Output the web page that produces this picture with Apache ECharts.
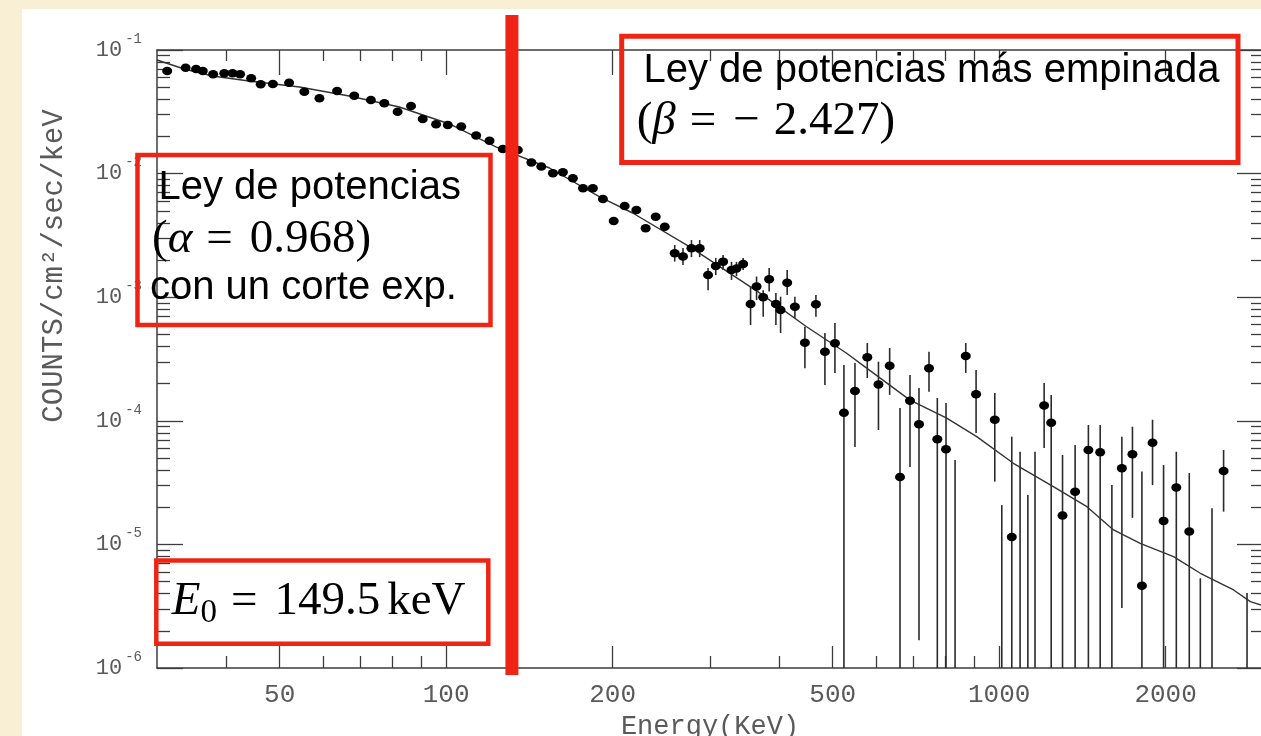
<!DOCTYPE html>
<html>
<head>
<meta charset="utf-8">
<script src="https://cdn.jsdelivr.net/npm/echarts@6.0.0/dist/echarts.min.js"></script>
<style>
  html, body { margin: 0; padding: 0; }
  #chart {
    width: 1261px; height: 736px;
    background: linear-gradient(#ffffff, #ffffff) 22px 9px / 1239px 727px no-repeat, #F9EFD5;
  }
</style>
</head>
<body>
<div id="chart"></div>
<script>
// Measured spectrum: energy (keV) and flux (counts/cm^2/sec/keV)
const pointE = [31.3, 33.8, 35.3, 36.3, 37.9, 39.7, 41.1, 42.4, 44.4, 46.2, 48.6, 52.0, 55.4, 59.0, 63.5, 68.2, 73.1, 77.3, 81.7, 86.4,
  90.7, 95.9, 100.7, 106.5, 113.3, 119.8, 126.6, 134.8, 142.6, 148.6, 156.0, 162.6, 169.5, 176.8, 184.2, 192.1, 200.9, 210.3, 220.8, 229.5,
  239.3, 248.5, 259.0, 268.1, 277.7, 287.4, 297.6, 307.3, 316.8, 328.1, 335.0, 344.4, 355.2, 364.2, 374.4, 383.8, 394.7, 402.5, 413.7, 427.2,
  466.3, 445.4, 484.1, 504.7, 524.0, 548.6, 577.5, 605.0, 633.9, 661.8, 689.9, 716.2, 746.7, 773.0, 801.5, 870.2, 908.4, 982.0, 1054, 1206,
  1242, 1302, 1372, 1450, 1523, 1667, 1742, 1812, 1894, 1983, 2091, 2207, 2546];
const pointC = [0.0676, 0.0719, 0.0702, 0.0676, 0.0636, 0.0648, 0.0648, 0.0636, 0.0590, 0.0528, 0.0531, 0.0544, 0.0460, 0.0407, 0.0466, 0.0427, 0.0394, 0.0371, 0.0317, 0.0352,
  0.0277, 0.0251, 0.0247, 0.0240, 0.0203, 0.0184, 0.0158, 0.0155, 0.0123, 0.0114, 0.01006, 0.01026, 0.00916, 0.00760, 0.00760, 0.00623, 0.00413, 0.00547, 0.00508, 0.00361,
  0.00448, 0.00372, 0.00227, 0.00213, 0.00249, 0.00249, 0.00151, 0.00179, 0.00194, 0.00166, 0.00171, 0.00186, 8.81e-4, 1.22e-3, 9.98e-4, 1.40e-3, 8.81e-4, 7.88e-4, 1.31e-3, 8.38e-4,
  8.76e-4, 4.28e-4, 3.62e-4, 4.24e-4, 1.16e-4, 1.74e-4, 3.27e-4, 1.97e-4, 2.79e-4, 3.51e-5, 1.45e-4, 9.39e-5, 2.66e-4, 7.08e-5, 5.88e-5, 3.34e-4, 1.64e-4, 1.02e-4, 1.15e-5, 1.33e-4,
  9.65e-5, 1.71e-5, 2.67e-5, 5.80e-5, 5.56e-5, 4.13e-5, 5.36e-5, 4.63e-6, 6.65e-5, 1.55e-5, 2.88e-5, 1.27e-5, 3.93e-5];
// Error bar limits (null where the bar is hidden under the dot); 1e-6 = runs off the bottom
const errLo = [null, null, null, null, null, null, null, null, null, null, null, null, null, null, null, null, null, null, null, null,
  null, null, null, null, null, null, null, null, null, null, null, null, null, null, null, null, null, null, null, null,
  null, null, 1.94e-3, 1.82e-3, 2.11e-3, 2.11e-3, 1.14e-3, 1.51e-3, 1.66e-3, 1.38e-3, 1.48e-3, 1.66e-3, 5.96e-4, 9.49e-4, 6.95e-4, 1.11e-3, 5.96e-4, 5.13e-4, 1.04e-3, 6.79e-4,
  6.95e-4, 2.66e-4, 1.95e-4, 2.44e-4, 1e-6, 6.14e-5, 2.22e-4, 8.43e-5, 1.62e-4, 1e-6, 4.23e-5, 1.68e-6, 1.72e-4, 1e-6, 1e-6, 2.44e-4, 7.97e-5, 3.22e-5, 1e-6, 6.03e-5,
  1e-6, 1e-6, 1e-6, 1e-6, 1e-6, 3.06e-6, 1.64e-5, 1e-6, 3.02e-5, 1e-6, 1e-6, 1e-6, 1.84e-5];
const errHi = [null, null, null, null, null, null, null, null, null, null, null, null, null, null, null, null, null, null, null, null,
  null, null, null, null, null, null, null, null, null, null, null, null, null, null, null, null, null, null, null, null,
  null, null, 2.64e-3, 2.50e-3, 2.90e-3, 2.90e-3, 1.72e-3, 2.08e-3, 2.19e-3, 1.93e-3, 1.93e-3, 2.08e-3, 1.22e-3, 1.47e-3, 1.14e-3, 1.72e-3, 1.08e-3, 1.01e-3, 1.66e-3, 1.01e-3,
  1.04e-3, 5.77e-4, 5.13e-4, 6.18e-4, 2.83e-4, 2.94e-4, 4.26e-4, 3.01e-4, 3.88e-4, 1.27e-4, 2.35e-4, 1.84e-4, 3.62e-4, 1.53e-4, 1.39e-4, 4.26e-4, 2.58e-4, 1.68e-4, 7.44e-5, 2.02e-4,
  1.62e-4, 5.29e-5, 6.37e-5, 9.25e-5, 9.25e-5, 7.44e-5, 8.96e-5, 3.88e-5, 1.02e-4, 4.39e-5, 5.62e-5, 3.78e-5, 5.80e-5];
// Bins whose value lies below the axis: only the upper end of the bar shows
const openE = [832.3, 1011, 1091, 1127, 1161, 1599, 2311, 2426, 2807];
const openTop = [4.82e-5, 2.08e-5, 5.62e-5, 2.51e-5, 5.62e-5, 3.02e-5, 5.32e-6, 1.96e-5, 4.04e-6];
// Fitted model curve
const fitE = [30, 33.6, 37.8, 44.0, 54.3, 66.8, 82.3, 101.4, 123.3, 153.8, 189.5, 217.4, 275.8, 369.3, 448.5, 529.9, 576.0, 689.9, 803.9, 910.9,
  1061, 1253, 1441, 1610, 1799, 2067, 2311, 2654, 2846, 2980];
const fitC = [0.0830, 0.0702, 0.0616, 0.0561, 0.0502, 0.0424, 0.0346, 0.0252, 0.0164, 0.0111, 0.00647, 0.00480, 0.00255, 0.00108, 5.77e-4, 3.52e-4, 2.67e-4, 1.47e-4, 1.05e-4, 7.44e-5,
  4.53e-5, 2.93e-5, 2.02e-5, 1.31e-5, 1.02e-5, 7.95e-6, 5.84e-6, 4.28e-6, 3.44e-6, 3.23e-6];
// Break energy marked with the red vertical bar
const breakE = 131.5;

// Axis ticks
const xMajor = [50, 100, 200, 500, 1000, 2000];
const xMinor = [40, 60, 70, 80, 90, 300, 400, 600, 700, 800, 900];
const yMajor = [1e-6, 1e-5, 1e-4, 1e-3, 1e-2, 1e-1];
const yMinor = [];
for (let d = -6; d < -1; d++) for (let m = 2; m <= 9; m++) yMinor.push(m * Math.pow(10, d));

const MONO = '"Liberation Mono", "DejaVu Sans Mono", monospace';
const SANS = '"Liberation Sans", Arial, sans-serif';
const SERIF = '"Liberation Serif", "DejaVu Serif", serif';
const AXIS_COLOR = '#3c3c3c';
const LABEL_COLOR = '#5a5a5a';
const RED = '#EE2414';

function xAxisDef(position, ticks, len, major) {
  return {
    type: 'log', logBase: 10, min: 30, max: 3000, position: position,
    axisLine: { show: major, lineStyle: { color: AXIS_COLOR, width: 1.5 } },
    axisTick: { show: true, inside: true, length: len, customValues: ticks, lineStyle: { color: AXIS_COLOR, width: 1.3 } },
    axisLabel: { show: false },
    splitLine: { show: false }
  };
}
function yAxisDef(position, ticks, len, major) {
  return {
    type: 'log', logBase: 10, min: 1e-6, max: 1e-1, position: position,
    axisLine: { show: major, lineStyle: { color: AXIS_COLOR, width: 1.5 } },
    axisTick: { show: true, inside: true, length: len, customValues: ticks, lineStyle: { color: AXIS_COLOR, width: 1.3 } },
    axisLabel: { show: false },
    splitLine: { show: false }
  };
}

const xBottom = xAxisDef('bottom', xMajor, 22, true);
xBottom.axisLabel = {
  show: true, customValues: xMajor, margin: 14,
  fontFamily: MONO, fontSize: 26, color: LABEL_COLOR,
  formatter: v => String(Math.round(v))
};
xBottom.name = 'Energy(KeV)';
xBottom.nameLocation = 'middle';
xBottom.nameGap = 38;
xBottom.nameTextStyle = { fontFamily: MONO, fontSize: 27, color: LABEL_COLOR };

const yLeft = yAxisDef('left', yMajor, 26, true);
yLeft.axisLabel = {
  show: true, customValues: yMajor, margin: 15,
  formatter: v => '{b|10}{s|' + Math.round(Math.log10(v)) + '}',
  rich: {
    b: { fontFamily: MONO, fontSize: 22, color: LABEL_COLOR, lineHeight: 36, padding: [0, 3, 0, 0] },
    s: { fontFamily: MONO, fontSize: 14, color: LABEL_COLOR, lineHeight: 6, verticalAlign: 'top' }
  }
};

const errData = [];
pointE.forEach((e, i) => { if (errLo[i] !== null) errData.push([e, errLo[i], errHi[i]]); });
const openData = openE.map((e, i) => [e, 1e-6, openTop[i]]);

function renderBar(params, api) {
  const top = api.coord([api.value(0), api.value(2)]);
  const bot = api.coord([api.value(0), api.value(1)]);
  return {
    type: 'line',
    shape: { x1: top[0], y1: top[1], x2: bot[0], y2: bot[1] },
    style: { stroke: '#2b2b2b', lineWidth: 1.6 }
  };
}

const chart = echarts.init(document.getElementById('chart'), null, { renderer: 'canvas' });
chart.setOption({
  animation: false,
  grid: { left: 157, top: 50, width: 1106, height: 618, containLabel: false, outerBoundsMode: 'none' },
  xAxis: [
    xBottom,
    xAxisDef('bottom', xMinor, 12, false),
    xAxisDef('top', xMajor, 25, true),
    xAxisDef('top', xMinor, 11, false)
  ],
  yAxis: [
    yLeft,
    yAxisDef('left', yMinor, 13, false),
    yAxisDef('right', yMajor, 26, true),
    yAxisDef('right', yMinor, 12, false)
  ],
  series: [
    {
      type: 'custom', name: 'errors', clip: true,
      renderItem: renderBar, encode: { x: 0, y: [1, 2] },
      data: errData, z: 3
    },
    {
      type: 'custom', name: 'open', clip: true,
      renderItem: renderBar, encode: { x: 0, y: [1, 2] },
      data: openData, z: 3
    },
    {
      type: 'line', name: 'fit', data: fitE.map((e, i) => [e, fitC[i]]),
      showSymbol: false, symbol: 'none', clip: true,
      lineStyle: { color: '#333', width: 1.4 }, z: 4
    },
    {
      type: 'scatter', name: 'data', data: pointE.map((e, i) => [e, pointC[i]]),
      symbol: 'circle', symbolSize: [10, 8.5],
      itemStyle: { color: '#000', opacity: 1 }, z: 5
    }
  ]
});

// Annotations: boxed captions and the break-energy bar
const bx = chart.convertToPixel({ xAxisIndex: 0 }, breakE);
function box(id, x, y, w, h, lw) {
  return { type: 'rect', id: id, z: 20, silent: true,
    shape: { x: x, y: y, width: w, height: h },
    style: { fill: 'none', stroke: RED, lineWidth: lw } };
}
function label(id, x, y, text, font, rich) {
  const st = { text: text, x: 0, y: 0, font: font, fill: '#000',
    align: 'left', textAlign: 'left', verticalAlign: 'middle', textVerticalAlign: 'middle' };
  if (rich) st.rich = rich;
  return { type: 'text', id: id, x: x, y: y, z: 21, silent: true, style: st };
}
const serifBase = { fontFamily: SERIF, fontSize: 47, fill: '#000', color: '#000' };
const serifRich = {
  n: Object.assign({}, serifBase),
  i: Object.assign({}, serifBase, { fontStyle: 'italic' }),
  eq: Object.assign({}, serifBase, { padding: [0, 17, 0, 14] }),
  mi: Object.assign({}, serifBase, { padding: [0, 14, 0, 0] }),
  k: Object.assign({}, serifBase, { padding: [0, 0, 0, 7] }),
  sub: { fontFamily: SERIF, fontSize: 33, fill: '#000', color: '#000', padding: [22, 0, 0, 0] }
};
chart.setOption({
  graphic: [
    box('boxA', 621.7, 36.3, 616.3, 126.2, 5),
    box('boxB', 137.5, 155, 353, 170, 4.5),
    box('boxC', 156.3, 560.5, 332, 83.3, 4.5),
    label('a1', 643.5, 71, 'Ley de potencias más empinada', '40px ' + SANS),
    label('a2', 636.7, 122, '{n|(}{i|β}{eq|=}{mi|−}{n|2.427)}', '47px ' + SERIF, serifRich),
    label('b1', 158.5, 188, 'Ley de potencias', '40px ' + SANS),
    label('b2', 152, 240, '{n|(}{i|α}{eq|=}{n|0.968)}', '47px ' + SERIF, serifRich),
    label('b3', 150, 288, 'con un corte exp.', '40px ' + SANS),
    label('c1', 171.7, 602, '{i|E}{sub|0}{eq|=}{n|149.5}{k|keV}', '47px ' + SERIF, serifRich),
    {
      type: 'text', id: 'ytitle', x: 54, y: 266, rotation: Math.PI / 2, z: 10, silent: true,
      style: { text: 'COUNTS/cm²/sec/keV', x: 0, y: 0, font: '29px ' + MONO, fill: LABEL_COLOR,
        align: 'center', textAlign: 'center', verticalAlign: 'middle', textVerticalAlign: 'middle' }
    },
    {
      type: 'rect', id: 'breakBar', z: 22, silent: true,
      shape: { x: bx - 6.5, y: 15, width: 13, height: 660 },
      style: { fill: RED }
    }
  ]
});
</script>
</body>
</html>
